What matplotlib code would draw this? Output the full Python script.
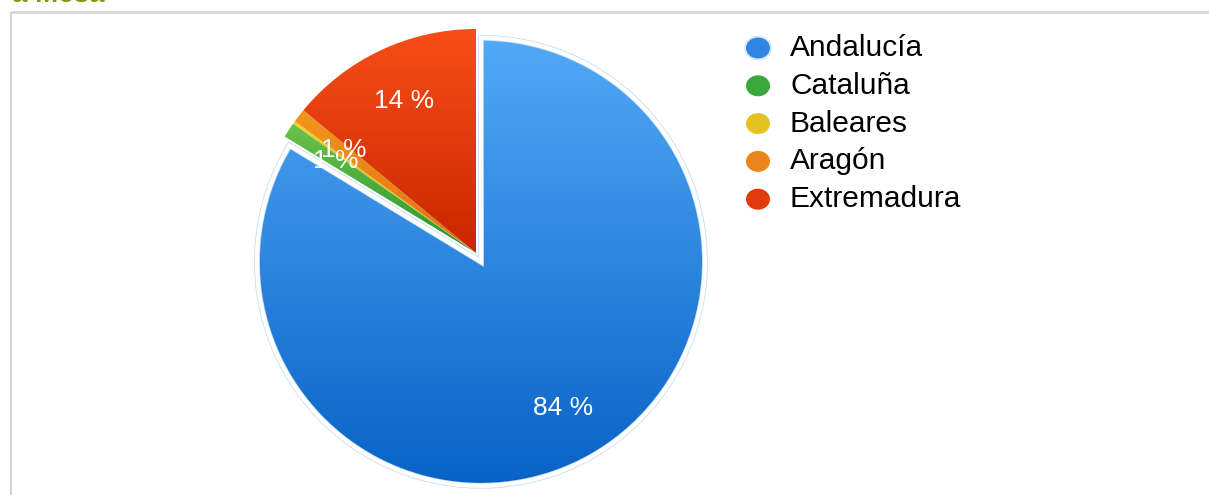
import numpy as np
import matplotlib
matplotlib.use("Agg")
import matplotlib.pyplot as plt
from matplotlib.colors import LinearSegmentedColormap
from matplotlib.patches import Ellipse, Wedge

plt.rcParams['font.family'] = ['Liberation Sans', 'DejaVu Sans']

# ---- data ----
regions = ["Andalucía", "Cataluña", "Baleares", "Aragón", "Extremadura"]
shares = [83.7, 1.1, 0.2, 1.0, 14.0]
top_colors = ["#52a9f7", "#6dc24a", "#f2d62a", "#f0961e", "#f84e18"]
bottom_colors = ["#0862c6", "#23962e", "#d0a818", "#e07010", "#c92600"]
mid_colors = ["#2f86e2", "#3aa83a", "#e4c222", "#ea861a", "#e23a0e"]
title_fragment = "a Mesa"

W, H = 1209, 495
fig = plt.figure(figsize=(W / 100, H / 100), dpi=100)
fig.patch.set_facecolor("white")

# overlay axes in pixel coordinates
ov = fig.add_axes([0, 0, 1, 1], zorder=0)
ov.set_xlim(0, W)
ov.set_ylim(H, 0)
ov.axis("off")
ov.patch.set_alpha(0)

# frame border
ov.plot([10.5, W + 5], [12, 12], color="#d8d8d8", lw=2, solid_capstyle="butt")
ov.plot([10.5, 10.5], [12, H + 5], color="#d4d4d4", lw=1.5, solid_capstyle="butt")

# cut-off title at top
ov.text(12, 2.5, title_fragment, color="#7a9b00", fontsize=20, fontweight="bold",
        ha="left", va="baseline")

# ---- pie ----
cx, cy, R = 476, 253, 224
half = 250
ax = fig.add_axes([(cx - half) / W, (H - cy - half) / H, 2 * half / W, 2 * half / H], zorder=1)
ax.patch.set_alpha(0)


def pct_fmt(p):
    return "" if p < 0.5 else f"{p:.0f} %"


explode = [0.045, 0, 0, 0, 0]
wedges, texts, autotexts = ax.pie(
    shares, startangle=90, counterclock=False, explode=explode,
    autopct=pct_fmt, pctdistance=0.75, radius=1.0,
    wedgeprops=dict(linewidth=0), textprops=dict(color="white", fontsize=19))

grad = np.linspace(0, 1, 256).reshape(-1, 1)
for w, c1, c2 in zip(wedges, top_colors, bottom_colors):
    v = w.get_path().transformed(w.get_patch_transform()).vertices
    x0, x1 = v[:, 0].min(), v[:, 0].max()
    y0, y1 = v[:, 1].min(), v[:, 1].max()
    cmap = LinearSegmentedColormap.from_list("g", [c2, c1])
    im = ax.imshow(grad, extent=[x0, x1, y0, y1], origin="lower", cmap=cmap,
                   aspect="auto", zorder=1, interpolation="bilinear")
    im.set_clip_path(w)
    w.set_facecolor("none")
    w.set_zorder(2)

# highlighted Andalucía outline
a = wedges[0]
outline = Wedge(a.center, a.r, a.theta1, a.theta2, facecolor="none",
                edgecolor="#c6def6", lw=4.2, zorder=1.5)
ax.add_patch(outline)
a.set_edgecolor("white")
a.set_linewidth(3)

for t in autotexts:
    t.set_zorder(5)

lim = half / R
ax.set_xlim(-lim, lim)
ax.set_ylim(-lim, lim)
ax.set_aspect("auto")
ax.axis("off")

# ---- legend ----
ly0, dy = 48, 37.8
for i, (name, c) in enumerate(zip(regions, mid_colors)):
    y = ly0 + i * dy
    if i == 0:
        ov.add_patch(Ellipse((758, y), 26, 23, facecolor="none",
                             edgecolor="#d0e4f8", lw=1.0, zorder=2))
    ov.add_patch(Ellipse((758, y), 24, 21, facecolor=c, edgecolor="none", zorder=3))
    ov.text(790, y, name, fontsize=21.5, color="black", ha="left", va="center")

fig.savefig("out.png", dpi=100, facecolor="white")
